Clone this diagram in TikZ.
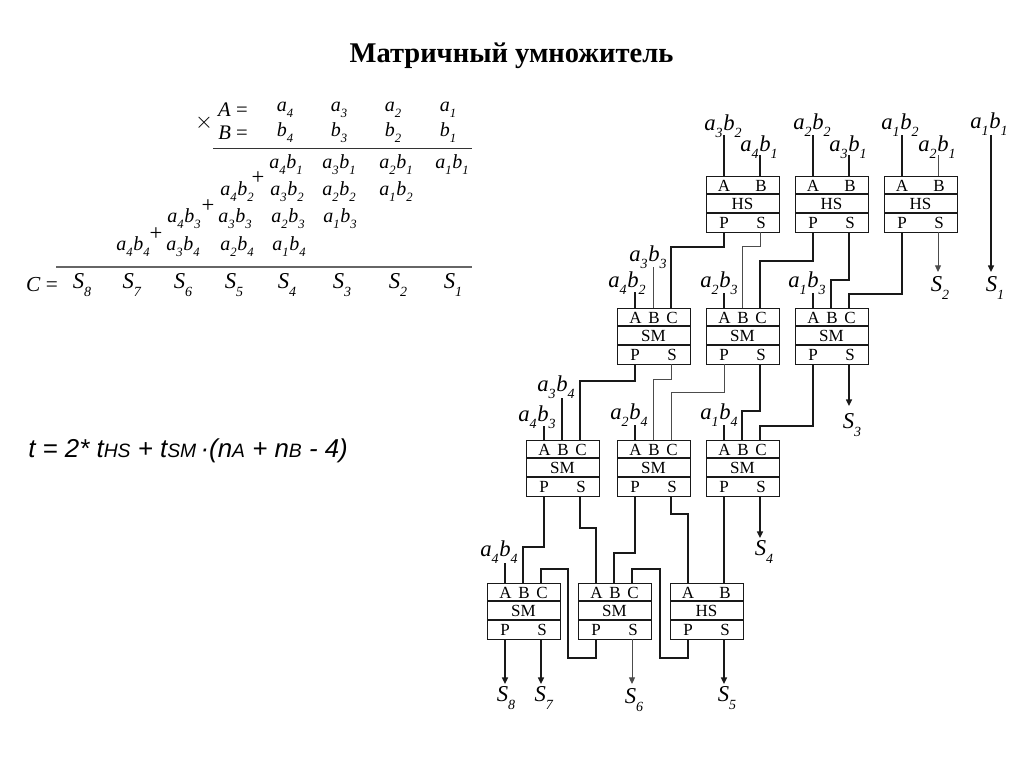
\documentclass[tikz,border=0pt]{standalone}
\usepackage{fontspec}
\setmainfont{Liberation Serif}
\newfontfamily\formfont{Liberation Sans}
\usetikzlibrary{arrows.meta}
\newcommand{\sbs}[1]{\raisebox{-0.3em}{\fontsize{9.5pt}{10pt}\selectfont\textit{#1}}}
\newcommand{\sbb}[1]{\raisebox{-0.32em}{\fontsize{10.5pt}{11pt}\selectfont\textit{#1}}}
\newcommand{\pr}[4]{{\fontsize{15pt}{16pt}\selectfont\textit{#1}\sbs{#2}\hspace{0.5pt}\textit{#3}\sbs{#4}}}
\newcommand{\prb}[4]{{\fontsize{17pt}{18pt}\selectfont\textit{#1}\sbb{#2}\hspace{0.5pt}\textit{#3}\sbb{#4}}}
\newcommand{\sg}[2]{{\fontsize{15pt}{16pt}\selectfont\textit{#1}\sbs{#2}}}
\newcommand{\sgb}[2]{{\fontsize{17pt}{18pt}\selectfont\textit{#1}\sbb{#2}}}
\newcommand{\bigt}[1]{{\fontsize{19.4pt}{20pt}\selectfont #1}}
\newcommand{\smt}[1]{{\fontsize{14.5pt}{15pt}\selectfont #1}}
\tikzset{
  wire/.style={line width=1.05pt,draw=black!90},
  lightwire/.style={line width=0.75pt,draw=black!70},
  outarrow/.style={wire,-{Triangle[length=5pt,width=4.5pt]}},
  lightarrow/.style={lightwire,-{Triangle[length=5pt,width=4.5pt]}},
  cellbox/.style={draw=black!90,line width=1pt,anchor=north west,inner sep=0pt,minimum width=54.75pt,minimum height=42pt},
  celltext/.style={inner sep=0pt,font=\fontsize{12.75pt}{13pt}\selectfont},
  lbl/.style={inner sep=0pt},
  rulegrid/.style={line width=0.7pt,draw=black!80},
}
% name, x, y, top row, middle
\newcommand{\mcell}[5]{%
  \node[cellbox] (#1) at (#2,#3) {};
  \draw[cellbox] (#2,#3+18) -- ++(73,0) (#2,#3+37) -- ++(73,0);
  \node[celltext] (#1-mid) at (#2+36.5,#3+28) {#5};
  \node[celltext] (#1-tP) at (#2+18,#3+47) {P};
  \node[celltext] (#1-tS) at (#2+55,#3+47) {S};
  \coordinate (#1-P) at (#2+18,#3+56);
  \coordinate (#1-S) at (#2+54,#3+56);
  \coordinate (#1-A) at (#2+18,#3);
  \coordinate (#1-C) at (#2+54,#3);
  \ifx#4s
    \coordinate (#1-B) at (#2+36,#3);
    \node[celltext] (#1-tA) at (#2+18.5,#3+9.5) {A};
    \node[celltext] (#1-tB) at (#2+37,#3+9.5) {B};
    \node[celltext] (#1-tC) at (#2+55,#3+9.5) {C};
  \else
    \coordinate (#1-B) at (#2+54,#3);
    \node[celltext] (#1-tA) at (#2+18,#3+9.5) {A};
    \node[celltext] (#1-tB) at (#2+55,#3+9.5) {B};
  \fi
}
% port, line length, label x, y, four label parts, style
\newcommand{\inp}[9][wire]{%
  \node[lbl] (l-#2) at (#4,#5) {\prb{#6}{#7}{#8}{#9}};
  \path (#2) ++(0,-#3) coordinate (e-#2);
  \draw[#1] (e-#2) -- (#2);
}
\newcommand{\tx}[4]{\node[lbl] (#1) at (#2,#3) {#4};}
\begin{document}
\begin{tikzpicture}[x=0.75pt,y=-0.75pt]
\useasboundingbox (0,0) rectangle (1024,767);
\fill[white] (0,0) rectangle (1024,767);

\node[lbl,font=\bfseries\fontsize{21.4pt}{23pt}\selectfont] (title) at (511.5,56) {Матричный умножитель};

% multiplication table
\tx{tx}{204}{123}{\fontsize{17pt}{18pt}\selectfont$\times$}
\tx{tA}{233}{110}{\fontsize{15.5pt}{16pt}\selectfont\textit{A} =}
\tx{tB}{233}{133}{\fontsize{15.5pt}{16pt}\selectfont\textit{B} =}
\tx{ta4}{285}{110}{\sg{a}{4}}\tx{ta3}{339}{110}{\sg{a}{3}}\tx{ta2}{393}{110}{\sg{a}{2}}\tx{ta1}{448}{110}{\sg{a}{1}}
\tx{tb4}{285}{133}{\sg{b}{4}}\tx{tb3}{339}{133}{\sg{b}{3}}\tx{tb2}{393}{133}{\sg{b}{2}}\tx{tb1}{448}{133}{\sg{b}{1}}
\coordinate (r1s) at (213,148); \coordinate (r1e) at (472,148);
\draw[rulegrid] (r1s) -- (r1e);
\tx{p41}{286}{165}{\pr a4b1}\tx{p31}{339}{165}{\pr a3b1}\tx{p21}{396}{165}{\pr a2b1}\tx{p11}{452}{165}{\pr a1b1}
\tx{p42}{237}{192}{\pr a4b2}\tx{p32}{287}{192}{\pr a3b2}\tx{p22}{339}{192}{\pr a2b2}\tx{p12}{396}{192}{\pr a1b2}
\tx{p43}{184}{219}{\pr a4b3}\tx{p33}{235}{219}{\pr a3b3}\tx{p23}{288}{219}{\pr a2b3}\tx{p13}{340}{219}{\pr a1b3}
\tx{p44}{133}{247}{\pr a4b4}\tx{p34}{183}{247}{\pr a3b4}\tx{p24}{237}{247}{\pr a2b4}\tx{p14}{289}{247}{\pr a1b4}
\tx{pl1}{258}{178}{\fontsize{17pt}{18pt}\selectfont +}
\tx{pl2}{208}{206}{\fontsize{17pt}{18pt}\selectfont +}
\tx{pl3}{156}{234}{\fontsize{17pt}{18pt}\selectfont +}
\coordinate (r2s) at (56,267); \coordinate (r2e) at (472,267);
\draw[rulegrid,draw=black!60,line width=0.8pt] (r2s) -- (r2e);
\tx{tC}{42}{285}{\fontsize{16pt}{17pt}\selectfont\textit{C} =}
\tx{ts8}{82}{285}{\sgb S8}\tx{ts7}{132}{285}{\sgb S7}\tx{ts6}{183}{285}{\sgb S6}\tx{ts5}{234}{285}{\sgb S5}
\tx{ts4}{287}{285}{\sgb S4}\tx{ts3}{342}{285}{\sgb S3}\tx{ts2}{398}{285}{\sgb S2}\tx{ts1}{453}{285}{\sgb S1}

% formula
\node[lbl,anchor=base west] (formula) at (28,457) {\formfont\itshape\bigt{t = 2* t}\smt{HS}\bigt{ + t}\smt{SM}\bigt{\,·(n}\smt{A}\bigt{ + n}\smt{B}\bigt{ - 4)}};

% cells
\mcell{aa}{706}{176}{h}{HS}\mcell{ab}{795}{176}{h}{HS}\mcell{ac}{884}{176}{h}{HS}
\mcell{ba}{617}{308}{s}{SM}\mcell{bb}{706}{308}{s}{SM}\mcell{bc}{795}{308}{s}{SM}
\mcell{ca}{526}{440}{s}{SM}\mcell{cb}{617}{440}{s}{SM}\mcell{cc}{706}{440}{s}{SM}
\mcell{da}{487}{583}{s}{SM}\mcell{db}{578}{583}{s}{SM}\mcell{dc}{670}{583}{h}{HS}

% inputs
\inp{aa-A}{41}{723}{126}a3b2
\inp{aa-B}{21}{759}{147}a4b1
\inp{ab-A}{41}{812}{125}a2b2
\inp{ab-B}{21}{848}{147}a3b1
\inp{ac-A}{41}{900}{125}a1b2
\inp[lightwire]{ac-B}{21}{937}{147}a2b1
\inp{ba-A}{16}{627}{283}a4b2
\inp[lightwire]{ba-B}{41}{648}{257}a3b3
\inp{bb-A}{15}{719}{283}a2b3
\inp{bc-A}{15}{807}{283}a1b3
\inp{ca-A}{14}{537}{417}a4b3
\inp{ca-B}{42}{556}{387}a3b4
\inp{cb-A}{15}{629}{415}a2b4
\inp{cc-A}{15}{719}{415}a1b4
\inp{da-A}{20}{499}{552}a4b4

% S outputs
\tx{S1}{995}{288}{\sgb S1}\tx{S2}{940}{288}{\sgb S2}\tx{S3}{852}{425}{\sgb S3}\tx{S4}{764}{552}{\sgb S4}
\tx{S5}{727}{698}{\sgb S5}\tx{S6}{634}{700}{\sgb S6}\tx{S7}{544}{698}{\sgb S7}\tx{S8}{506}{698}{\sgb S8}
\tx{a1b1}{989}{124}{\prb a1b1}
\coordinate (s1top) at (991,135); \coordinate (s1end) at (991,272);
\draw[outarrow] (s1top) -- (s1end);
\draw[lightarrow] (ac-S) -- ++(0,40);
\draw[outarrow] (bc-S) -- ++(0,42);
\draw[outarrow] (cc-S) -- ++(0,42);
\draw[outarrow] (da-P) -- ++(0,45);
\draw[outarrow] (da-S) -- ++(0,45);
\draw[lightarrow] (db-S) -- ++(0,45);
\draw[outarrow] (dc-S) -- ++(0,45);

% row 1 to row 2
\draw[wire] (aa-P) -- ++(0,15) -| (ba-C);
\draw[lightwire] (aa-S) -- ++(0,14) -| (bb-B);
\draw[wire] (ab-P) -- ++(0,29) -| (bb-C);
\draw[wire] (ab-S) -- ++(0,48) -| (bc-B);
\draw[wire] (ac-P) -- ++(0,62) -| (bc-C);
% row 2 to row 3
\draw[wire] (ba-P) -- ++(0,17) -| (ca-C);
\draw[lightwire] (ba-S) -- ++(0,15) -| (cb-B);
\draw[lightwire] (bb-P) -- ++(0,28) -| (cb-C);
\draw[wire] (bb-S) -- ++(0,47) -| (cc-B);
\draw[wire] (bc-P) -- ++(0,62) -| (cc-C);
% row 3 to row 4
\draw[wire] (ca-P) -- ++(0,51) -| (da-B);
\draw[wire] (ca-S) -- ++(0,32) -| (db-A);
\draw[wire] (cb-P) -- ++(0,57) -| (db-B);
\draw[wire] (cb-S) -- ++(0,18) -| (dc-A);
\draw[wire] (cc-P) -- (dc-B);
% carries in row 4
\draw[wire] (db-P) -- ++(0,19) -| ++(-28,-89) -| (da-C);
\draw[wire] (dc-P) -- ++(0,19) -| ++(-28,-89) -| (db-C);
\end{tikzpicture}
\end{document}
